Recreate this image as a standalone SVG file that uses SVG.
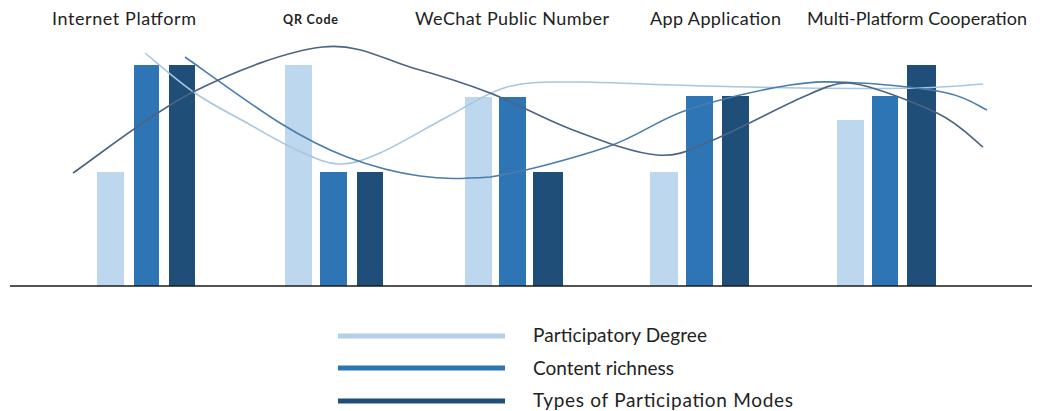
<svg xmlns="http://www.w3.org/2000/svg" width="1043" height="411" viewBox="0 0 1043 411">
<style>
.lbl{font-family:Lato,"Liberation Sans",sans-serif;font-size:18px;fill:#222}
.leg{font-family:Lato,"Liberation Sans",sans-serif;font-size:19px;fill:#222}
.qr{font-family:Lato,"Liberation Sans",sans-serif;font-size:12.5px;font-weight:bold;fill:#222}
.b1{fill:#BDD7EE}
.b2{fill:#2E75B6}
.b3{fill:#1F4E79}
.cv{fill:none;stroke-width:1.6}
</style>
<rect width="1043" height="411" fill="#fff"/>
<g id="labels">
<text class="lbl" x="52" y="25" textLength="144">Internet Platform</text>
<text class="qr" x="283" y="24" textLength="55">QR Code</text>
<text class="lbl" x="415" y="25" textLength="194">WeChat Public Number</text>
<text class="lbl" x="650" y="25" textLength="131">App Application</text>
<text class="lbl" x="807" y="25" textLength="220">Multi-Platform Cooperation</text>
</g>
<g id="internet-platform">
<rect class="b1" x="97" y="172" width="27" height="114"/>
<rect class="b2" x="134" y="65" width="25" height="221"/>
<rect class="b3" x="169" y="65" width="26" height="221"/>
</g>
<g id="qr-code">
<rect class="b1" x="285" y="65" width="27" height="221"/>
<rect class="b2" x="320" y="172" width="27" height="114"/>
<rect class="b3" x="357" y="172" width="26" height="114"/>
</g>
<g id="wechat">
<rect class="b1" x="465" y="97" width="27" height="189"/>
<rect class="b2" x="499" y="97" width="27" height="189"/>
<rect class="b3" x="533" y="172" width="30" height="114"/>
</g>
<g id="app">
<rect class="b1" x="650" y="172" width="28" height="114"/>
<rect class="b2" x="686" y="96" width="27" height="190"/>
<rect class="b3" x="722" y="96" width="27" height="190"/>
</g>
<g id="multi-platform">
<rect class="b1" x="837" y="120" width="27" height="166"/>
<rect class="b2" x="872" y="96" width="26" height="190"/>
<rect class="b3" x="907" y="65" width="29" height="221"/>
</g>
<line id="axis" x1="10" y1="286" x2="1032" y2="286" stroke="#1a1a1a" stroke-width="1.5"/>
<g id="connectors">
<path class="cv" stroke="#A9C6E0" d="M145,53 C153.3,59.7 178,81.3 195,93 C212,104.7 230,113.5 247,123 C264,132.5 281.8,143.2 297,150 C312.2,156.8 324.2,163.5 338,164 C351.8,164.5 361.8,160.8 380,153 C398.2,145.2 425.8,128 447,117 C468.2,106 486,92.8 507,87 C528,81.2 545.3,82.3 573,82 C600.7,81.7 635.2,84 673,85 C710.8,86 758.8,87.5 800,88 C841.2,88.5 889.5,88.7 920,88 C950.5,87.3 972.5,84.7 983,84"/>
<path class="cv" stroke="#4A7DAE" d="M185,57 C200.8,68 253,106.3 280,123 C307,139.7 323.7,148.2 347,157 C370.3,165.8 396.2,172.7 420,176 C443.8,179.3 460,179 490,177 C521.2,172.2 574.2,158.2 607,147 C639.8,135.8 656.5,120.3 687,110 C717.5,99.7 761.2,89.5 790,85 C818.8,80.5 833.8,81.7 860,83 C886.2,84.3 925.8,88.5 947,93 C968.2,97.5 980.3,107.2 987,110"/>
<path class="cv" stroke="#4C6482" d="M73,173 C93,159.5 151.3,113 193,92 C234.7,71 286.3,51 323,47 C359.7,43 385.2,60.3 413,68 C440.8,75.7 463.3,82.7 490,93 C516.7,103.3 545.2,119.7 573,130 C600.8,140.3 633.7,153.3 657,155 C680.3,156.7 688.7,149.7 713,140 C737.3,130.3 780.7,106.5 803,97 C818,90.5 832,83 847,83 C866,83 914.3,102.3 937,113 C959.7,123.7 975.3,141.3 983,147"/>
</g>
<g id="legend">
<line x1="338" y1="336" x2="505" y2="336" stroke="#B4CFE8" stroke-width="5"/>
<line x1="338" y1="368" x2="505" y2="368" stroke="#2E75B6" stroke-width="5"/>
<line x1="338" y1="401" x2="505" y2="401" stroke="#1F4E79" stroke-width="5"/>
<text class="leg" x="533" y="342" textLength="174">Participatory Degree</text>
<text class="leg" x="533" y="375" textLength="141">Content richness</text>
<text class="leg" x="533" y="407" textLength="260">Types of Participation Modes</text>
</g>
</svg>
